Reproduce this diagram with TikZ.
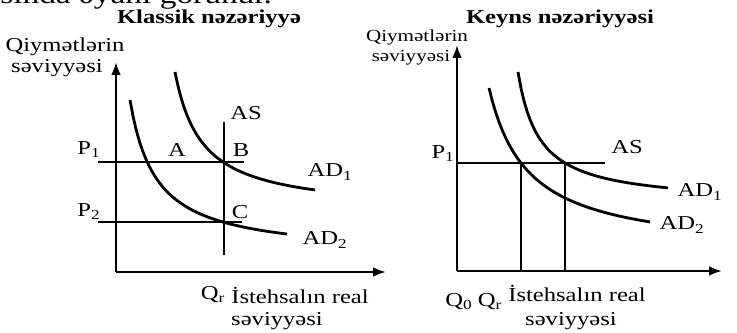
\documentclass[tikz,border=0pt]{standalone}
\usepackage{fontspec}
\setmainfont{Liberation Serif}[FakeStretch=1.25]
\usetikzlibrary{arrows.meta}

\begin{document}
\begin{tikzpicture}[
    x=0.025cm, y=-0.025cm,
    every node/.style={font=\fontsize{14}{16}\selectfont, inner sep=0pt},
    ttl/.style={font=\fontsize{14}{16}\selectfont\bfseries},
    small/.style={font=\fontsize{12}{14}\selectfont},
    axis/.style={line width=1.6pt, -{Latex[length=3.2mm,width=2.4mm]}},
    curve/.style={line width=2pt},
    guide/.style={line width=1.1pt},
    asline/.style={line width=1.7pt}
]
\useasboundingbox (0,0) rectangle (737,333);
\clip (0,0) rectangle (737,333);

% cut-off line of the page above
\node[anchor=base west, font=\fontsize{19}{22}\selectfont] (top) at (0,4) {sında əyani görünür.};

% ---- Klassik nezeriyye ----
\node[ttl] (tl) at (209,19) {Klassik nəzəriyyə};
\node (yl1) at (65,47) {Qiymətlərin};
\node (yl2) at (57,68) {səviyyəsi};

\coordinate (o1) at (116,272);
\coordinate (ytip1) at (116,62);
\coordinate (xtip1) at (386,272);
\draw[axis] (o1) -- (ytip1);
\draw[axis] (o1) -- (xtip1);

% price levels
\coordinate (p1s) at (98,162);
\coordinate (p1e) at (244,162);
\coordinate (p2s) at (98,222);
\coordinate (p2e) at (242,222);
\draw[guide] (p1s) -- (p1e);
\draw[guide] (p2s) -- (p2e);
\node (P1a) at (89,150) {P\textsubscript{1}};
\node (P2a) at (89,212) {P\textsubscript{2}};

% vertical AS
\coordinate (as1t) at (224,122);
\coordinate (as1b) at (224,255);
\draw[asline] (as1t) -- (as1b);
\node (ASa) at (246,113) {AS};

% demand curves
\draw[curve] plot[domain=175:315, samples=50] (\x, {212.8 - 3816/(\x - 147.9)});
\draw[curve] plot[domain=130:287, samples=50] (\x, {256.4 - 4097/(\x - 103.8)});
\node (AD1a) at (330,172) {AD\textsubscript{1}};
\node (AD2a) at (325,240) {AD\textsubscript{2}};

\node (A) at (177,150) {A};
\node (B) at (241,150) {B};
\node (C) at (240,212) {C};

\node (Qra) at (213,295) {Q\textsubscript{r}};
\node (xl1) at (300,295) {İstehsalın real};
\node (xl2) at (277,321) {səviyyəsi};

% ---- Keyns nezeriyyesi ----
\node[ttl] (tr) at (560,19) {Keyns nəzəriyyəsi};
\node[small] (yr1) at (417,37) {Qiymətlərin};
\node[small] (yr2) at (411,58) {səviyyəsi};

\coordinate (o2) at (457,271);
\coordinate (ytip2) at (457,45);
\coordinate (xtip2) at (722,271);
\draw[axis] (o2) -- (ytip2);
\draw[axis] (o2) -- (xtip2);

% horizontal AS
\coordinate (as2e) at (605,163);
\coordinate (p1r) at (457,163);
\draw[asline] (p1r) -- (as2e);
\node (P1b) at (443,154) {P\textsubscript{1}};
\node (ASb) at (627,147) {AS};

% output levels
\coordinate (q0t) at (521,163);
\coordinate (q0b) at (521,271);
\coordinate (qrt) at (565,163);
\coordinate (qrb) at (565,271);
\draw[guide] (q0t) -- (q0b);
\draw[guide] (qrt) -- (qrb);

\draw[curve] plot[domain=518:668, samples=50] (\x, {204.4 - 2834/(\x - 496.6)});
\draw[curve] plot[domain=489:650, samples=50] (\x, {254.4 - 6490/(\x - 450)});
\node (AD1b) at (700,192) {AD\textsubscript{1}};
\node (AD2b) at (682,225) {AD\textsubscript{2}};

\node (Q0b) at (459,302) {Q\textsubscript{0}};
\node (Qrb) at (490,302) {Q\textsubscript{r}};
\node (xr1) at (577,293) {İstehsalın real};
\node (xr2) at (571,321) {səviyyəsi};

\end{tikzpicture}
\end{document}
